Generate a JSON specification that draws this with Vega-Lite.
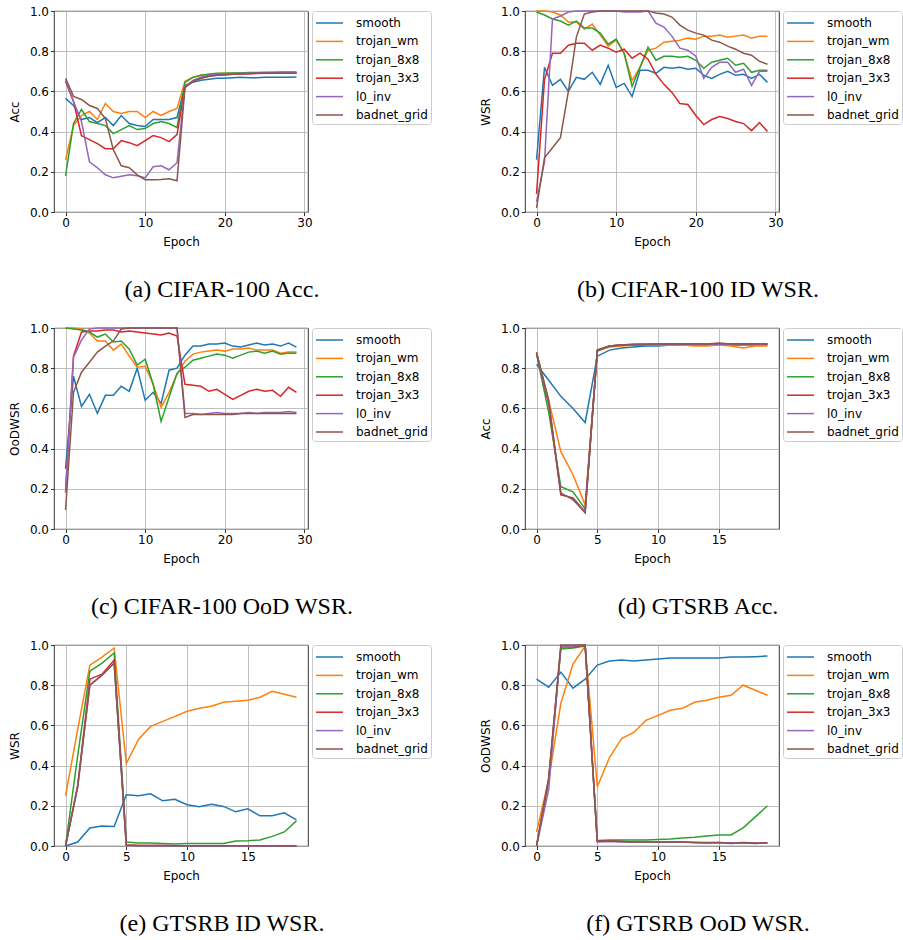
{
"$schema": "https://vega.github.io/schema/vega-lite/v6.json",
"padding": {"left": 8, "top": 4, "right": 0, "bottom": 0},
"background": "white",
"datasets": {
"a": [
{"e":0,"smooth":0.565,"trojan_wm":0.26,"trojan_8x8":0.18,"trojan_3x3":0.65,"l0_inv":0.655,"badnet_grid":0.665},
{"e":1,"smooth":0.53,"trojan_wm":0.43,"trojan_8x8":0.44,"trojan_3x3":0.55,"l0_inv":0.55,"badnet_grid":0.575},
{"e":2,"smooth":0.46,"trojan_wm":0.48,"trojan_8x8":0.51,"trojan_3x3":0.38,"l0_inv":0.45,"badnet_grid":0.56},
{"e":3,"smooth":0.47,"trojan_wm":0.5,"trojan_8x8":0.45,"trojan_3x3":0.36,"l0_inv":0.25,"badnet_grid":0.53},
{"e":4,"smooth":0.445,"trojan_wm":0.46,"trojan_8x8":0.44,"trojan_3x3":0.34,"l0_inv":0.22,"badnet_grid":0.515},
{"e":5,"smooth":0.47,"trojan_wm":0.54,"trojan_8x8":0.43,"trojan_3x3":0.315,"l0_inv":0.185,"badnet_grid":0.465},
{"e":6,"smooth":0.43,"trojan_wm":0.5,"trojan_8x8":0.39,"trojan_3x3":0.315,"l0_inv":0.17,"badnet_grid":0.31},
{"e":7,"smooth":0.48,"trojan_wm":0.49,"trojan_8x8":0.41,"trojan_3x3":0.355,"l0_inv":0.178,"badnet_grid":0.23},
{"e":8,"smooth":0.44,"trojan_wm":0.5,"trojan_8x8":0.43,"trojan_3x3":0.345,"l0_inv":0.185,"badnet_grid":0.22},
{"e":9,"smooth":0.43,"trojan_wm":0.5,"trojan_8x8":0.41,"trojan_3x3":0.33,"l0_inv":0.18,"badnet_grid":0.185},
{"e":10,"smooth":0.425,"trojan_wm":0.47,"trojan_8x8":0.415,"trojan_3x3":0.355,"l0_inv":0.17,"badnet_grid":0.16},
{"e":11,"smooth":0.46,"trojan_wm":0.5,"trojan_8x8":0.44,"trojan_3x3":0.38,"l0_inv":0.225,"badnet_grid":0.16},
{"e":12,"smooth":0.46,"trojan_wm":0.48,"trojan_8x8":0.45,"trojan_3x3":0.37,"l0_inv":0.23,"badnet_grid":0.162},
{"e":13,"smooth":0.46,"trojan_wm":0.5,"trojan_8x8":0.44,"trojan_3x3":0.35,"l0_inv":0.21,"badnet_grid":0.165},
{"e":14,"smooth":0.47,"trojan_wm":0.515,"trojan_8x8":0.42,"trojan_3x3":0.385,"l0_inv":0.245,"badnet_grid":0.155},
{"e":15,"smooth":0.63,"trojan_wm":0.65,"trojan_8x8":0.645,"trojan_3x3":0.62,"l0_inv":0.625,"badnet_grid":0.62},
{"e":16,"smooth":0.645,"trojan_wm":0.67,"trojan_8x8":0.67,"trojan_3x3":0.65,"l0_inv":0.655,"badnet_grid":0.65},
{"e":17,"smooth":0.655,"trojan_wm":0.68,"trojan_8x8":0.68,"trojan_3x3":0.665,"l0_inv":0.67,"badnet_grid":0.665},
{"e":18,"smooth":0.66,"trojan_wm":0.685,"trojan_8x8":0.685,"trojan_3x3":0.675,"l0_inv":0.68,"badnet_grid":0.675},
{"e":19,"smooth":0.665,"trojan_wm":0.688,"trojan_8x8":0.69,"trojan_3x3":0.68,"l0_inv":0.685,"badnet_grid":0.68},
{"e":20,"smooth":0.665,"trojan_wm":0.69,"trojan_8x8":0.69,"trojan_3x3":0.683,"l0_inv":0.687,"badnet_grid":0.683},
{"e":21,"smooth":0.668,"trojan_wm":0.69,"trojan_8x8":0.692,"trojan_3x3":0.685,"l0_inv":0.688,"badnet_grid":0.685},
{"e":22,"smooth":0.67,"trojan_wm":0.692,"trojan_8x8":0.692,"trojan_3x3":0.687,"l0_inv":0.69,"badnet_grid":0.687},
{"e":23,"smooth":0.668,"trojan_wm":0.692,"trojan_8x8":0.694,"trojan_3x3":0.688,"l0_inv":0.69,"badnet_grid":0.688},
{"e":24,"smooth":0.668,"trojan_wm":0.693,"trojan_8x8":0.694,"trojan_3x3":0.689,"l0_inv":0.691,"badnet_grid":0.69},
{"e":25,"smooth":0.67,"trojan_wm":0.693,"trojan_8x8":0.695,"trojan_3x3":0.69,"l0_inv":0.692,"badnet_grid":0.69},
{"e":26,"smooth":0.67,"trojan_wm":0.694,"trojan_8x8":0.695,"trojan_3x3":0.69,"l0_inv":0.692,"badnet_grid":0.69},
{"e":27,"smooth":0.67,"trojan_wm":0.694,"trojan_8x8":0.696,"trojan_3x3":0.69,"l0_inv":0.692,"badnet_grid":0.69},
{"e":28,"smooth":0.67,"trojan_wm":0.694,"trojan_8x8":0.696,"trojan_3x3":0.69,"l0_inv":0.693,"badnet_grid":0.69},
{"e":29,"smooth":0.672,"trojan_wm":0.695,"trojan_8x8":0.696,"trojan_3x3":0.69,"l0_inv":0.693,"badnet_grid":0.69}
],
"b": [
{"e":0,"smooth":0.26,"trojan_wm":1.0,"trojan_8x8":0.995,"trojan_3x3":0.09,"l0_inv":0.05,"badnet_grid":0.02},
{"e":1,"smooth":0.72,"trojan_wm":1.0,"trojan_8x8":0.98,"trojan_3x3":0.66,"l0_inv":0.25,"badnet_grid":0.27},
{"e":2,"smooth":0.63,"trojan_wm":0.995,"trojan_8x8":0.96,"trojan_3x3":0.79,"l0_inv":0.96,"badnet_grid":0.32},
{"e":3,"smooth":0.66,"trojan_wm":0.98,"trojan_8x8":0.95,"trojan_3x3":0.79,"l0_inv":0.975,"badnet_grid":0.37},
{"e":4,"smooth":0.6,"trojan_wm":0.945,"trojan_8x8":0.93,"trojan_3x3":0.83,"l0_inv":0.995,"badnet_grid":0.6},
{"e":5,"smooth":0.67,"trojan_wm":0.945,"trojan_8x8":0.95,"trojan_3x3":0.84,"l0_inv":1.0,"badnet_grid":0.87},
{"e":6,"smooth":0.66,"trojan_wm":0.91,"trojan_8x8":0.915,"trojan_3x3":0.84,"l0_inv":1.0,"badnet_grid":0.985},
{"e":7,"smooth":0.695,"trojan_wm":0.935,"trojan_8x8":0.915,"trojan_3x3":0.805,"l0_inv":1.0,"badnet_grid":0.995},
{"e":8,"smooth":0.635,"trojan_wm":0.88,"trojan_8x8":0.89,"trojan_3x3":0.83,"l0_inv":1.0,"badnet_grid":1.0},
{"e":9,"smooth":0.73,"trojan_wm":0.825,"trojan_8x8":0.835,"trojan_3x3":0.815,"l0_inv":1.0,"badnet_grid":1.0},
{"e":10,"smooth":0.62,"trojan_wm":0.855,"trojan_8x8":0.86,"trojan_3x3":0.795,"l0_inv":1.0,"badnet_grid":1.0},
{"e":11,"smooth":0.64,"trojan_wm":0.79,"trojan_8x8":0.79,"trojan_3x3":0.81,"l0_inv":0.995,"badnet_grid":1.0},
{"e":12,"smooth":0.575,"trojan_wm":0.655,"trojan_8x8":0.625,"trojan_3x3":0.765,"l0_inv":0.995,"badnet_grid":1.0},
{"e":13,"smooth":0.705,"trojan_wm":0.72,"trojan_8x8":0.72,"trojan_3x3":0.79,"l0_inv":0.995,"badnet_grid":1.0},
{"e":14,"smooth":0.705,"trojan_wm":0.805,"trojan_8x8":0.82,"trojan_3x3":0.76,"l0_inv":1.0,"badnet_grid":1.0},
{"e":15,"smooth":0.69,"trojan_wm":0.815,"trojan_8x8":0.755,"trojan_3x3":0.685,"l0_inv":0.94,"badnet_grid":0.99},
{"e":16,"smooth":0.72,"trojan_wm":0.845,"trojan_8x8":0.775,"trojan_3x3":0.635,"l0_inv":0.92,"badnet_grid":0.985},
{"e":17,"smooth":0.715,"trojan_wm":0.85,"trojan_8x8":0.775,"trojan_3x3":0.595,"l0_inv":0.875,"badnet_grid":0.97},
{"e":18,"smooth":0.72,"trojan_wm":0.855,"trojan_8x8":0.77,"trojan_3x3":0.54,"l0_inv":0.815,"badnet_grid":0.93},
{"e":19,"smooth":0.71,"trojan_wm":0.865,"trojan_8x8":0.775,"trojan_3x3":0.535,"l0_inv":0.805,"badnet_grid":0.905},
{"e":20,"smooth":0.715,"trojan_wm":0.86,"trojan_8x8":0.755,"trojan_3x3":0.48,"l0_inv":0.775,"badnet_grid":0.89},
{"e":21,"smooth":0.68,"trojan_wm":0.875,"trojan_8x8":0.715,"trojan_3x3":0.435,"l0_inv":0.665,"badnet_grid":0.88},
{"e":22,"smooth":0.665,"trojan_wm":0.875,"trojan_8x8":0.745,"trojan_3x3":0.46,"l0_inv":0.72,"badnet_grid":0.855},
{"e":23,"smooth":0.685,"trojan_wm":0.88,"trojan_8x8":0.755,"trojan_3x3":0.475,"l0_inv":0.745,"badnet_grid":0.845},
{"e":24,"smooth":0.7,"trojan_wm":0.87,"trojan_8x8":0.765,"trojan_3x3":0.465,"l0_inv":0.745,"badnet_grid":0.825},
{"e":25,"smooth":0.68,"trojan_wm":0.875,"trojan_8x8":0.73,"trojan_3x3":0.45,"l0_inv":0.695,"badnet_grid":0.81},
{"e":26,"smooth":0.685,"trojan_wm":0.88,"trojan_8x8":0.74,"trojan_3x3":0.44,"l0_inv":0.71,"badnet_grid":0.79},
{"e":27,"smooth":0.665,"trojan_wm":0.865,"trojan_8x8":0.695,"trojan_3x3":0.405,"l0_inv":0.63,"badnet_grid":0.78},
{"e":28,"smooth":0.685,"trojan_wm":0.875,"trojan_8x8":0.705,"trojan_3x3":0.445,"l0_inv":0.7,"badnet_grid":0.75},
{"e":29,"smooth":0.645,"trojan_wm":0.875,"trojan_8x8":0.705,"trojan_3x3":0.4,"l0_inv":0.7,"badnet_grid":0.735}
],
"c": [
{"e":0,"smooth":0.3,"trojan_wm":1.0,"trojan_8x8":1.0,"trojan_3x3":0.19,"l0_inv":0.18,"badnet_grid":0.095},
{"e":1,"smooth":0.76,"trojan_wm":1.0,"trojan_8x8":0.995,"trojan_3x3":0.86,"l0_inv":0.855,"badnet_grid":0.68},
{"e":2,"smooth":0.61,"trojan_wm":0.995,"trojan_8x8":0.99,"trojan_3x3":0.98,"l0_inv":0.94,"badnet_grid":0.78},
{"e":3,"smooth":0.67,"trojan_wm":0.975,"trojan_8x8":0.98,"trojan_3x3":0.985,"l0_inv":0.995,"badnet_grid":0.83},
{"e":4,"smooth":0.575,"trojan_wm":0.935,"trojan_8x8":0.955,"trojan_3x3":0.985,"l0_inv":1.0,"badnet_grid":0.88},
{"e":5,"smooth":0.665,"trojan_wm":0.935,"trojan_8x8":0.97,"trojan_3x3":0.99,"l0_inv":1.0,"badnet_grid":0.91},
{"e":6,"smooth":0.665,"trojan_wm":0.89,"trojan_8x8":0.93,"trojan_3x3":0.99,"l0_inv":1.0,"badnet_grid":0.935},
{"e":7,"smooth":0.71,"trojan_wm":0.92,"trojan_8x8":0.935,"trojan_3x3":0.98,"l0_inv":1.0,"badnet_grid":0.995},
{"e":8,"smooth":0.685,"trojan_wm":0.86,"trojan_8x8":0.895,"trojan_3x3":0.985,"l0_inv":1.0,"badnet_grid":1.0},
{"e":9,"smooth":0.8,"trojan_wm":0.805,"trojan_8x8":0.815,"trojan_3x3":0.98,"l0_inv":1.0,"badnet_grid":1.0},
{"e":10,"smooth":0.64,"trojan_wm":0.81,"trojan_8x8":0.845,"trojan_3x3":0.975,"l0_inv":1.0,"badnet_grid":1.0},
{"e":11,"smooth":0.68,"trojan_wm":0.72,"trojan_8x8":0.72,"trojan_3x3":0.97,"l0_inv":1.0,"badnet_grid":1.0},
{"e":12,"smooth":0.625,"trojan_wm":0.605,"trojan_8x8":0.535,"trojan_3x3":0.965,"l0_inv":1.0,"badnet_grid":1.0},
{"e":13,"smooth":0.79,"trojan_wm":0.68,"trojan_8x8":0.655,"trojan_3x3":0.975,"l0_inv":1.0,"badnet_grid":1.0},
{"e":14,"smooth":0.8,"trojan_wm":0.77,"trojan_8x8":0.775,"trojan_3x3":0.96,"l0_inv":1.0,"badnet_grid":1.0},
{"e":15,"smooth":0.865,"trojan_wm":0.835,"trojan_8x8":0.805,"trojan_3x3":0.72,"l0_inv":0.575,"badnet_grid":0.555},
{"e":16,"smooth":0.91,"trojan_wm":0.87,"trojan_8x8":0.84,"trojan_3x3":0.715,"l0_inv":0.575,"badnet_grid":0.57},
{"e":17,"smooth":0.91,"trojan_wm":0.88,"trojan_8x8":0.85,"trojan_3x3":0.71,"l0_inv":0.57,"badnet_grid":0.57},
{"e":18,"smooth":0.92,"trojan_wm":0.885,"trojan_8x8":0.86,"trojan_3x3":0.685,"l0_inv":0.575,"badnet_grid":0.57},
{"e":19,"smooth":0.92,"trojan_wm":0.89,"trojan_8x8":0.87,"trojan_3x3":0.695,"l0_inv":0.58,"badnet_grid":0.57},
{"e":20,"smooth":0.925,"trojan_wm":0.885,"trojan_8x8":0.865,"trojan_3x3":0.67,"l0_inv":0.575,"badnet_grid":0.57},
{"e":21,"smooth":0.91,"trojan_wm":0.895,"trojan_8x8":0.85,"trojan_3x3":0.645,"l0_inv":0.575,"badnet_grid":0.57},
{"e":22,"smooth":0.905,"trojan_wm":0.895,"trojan_8x8":0.865,"trojan_3x3":0.665,"l0_inv":0.575,"badnet_grid":0.575},
{"e":23,"smooth":0.915,"trojan_wm":0.9,"trojan_8x8":0.88,"trojan_3x3":0.685,"l0_inv":0.58,"badnet_grid":0.575},
{"e":24,"smooth":0.925,"trojan_wm":0.89,"trojan_8x8":0.885,"trojan_3x3":0.695,"l0_inv":0.575,"badnet_grid":0.575},
{"e":25,"smooth":0.915,"trojan_wm":0.89,"trojan_8x8":0.875,"trojan_3x3":0.685,"l0_inv":0.58,"badnet_grid":0.575},
{"e":26,"smooth":0.92,"trojan_wm":0.89,"trojan_8x8":0.885,"trojan_3x3":0.69,"l0_inv":0.58,"badnet_grid":0.575},
{"e":27,"smooth":0.91,"trojan_wm":0.875,"trojan_8x8":0.87,"trojan_3x3":0.66,"l0_inv":0.58,"badnet_grid":0.575},
{"e":28,"smooth":0.925,"trojan_wm":0.88,"trojan_8x8":0.875,"trojan_3x3":0.705,"l0_inv":0.585,"badnet_grid":0.575},
{"e":29,"smooth":0.905,"trojan_wm":0.88,"trojan_8x8":0.875,"trojan_3x3":0.68,"l0_inv":0.58,"badnet_grid":0.575}
],
"d": [
{"e":0,"smooth":0.82,"trojan_wm":0.875,"trojan_8x8":0.87,"trojan_3x3":0.875,"l0_inv":0.875,"badnet_grid":0.88},
{"e":1,"smooth":0.74,"trojan_wm":0.64,"trojan_8x8":0.58,"trojan_3x3":0.62,"l0_inv":0.63,"badnet_grid":0.64},
{"e":2,"smooth":0.66,"trojan_wm":0.385,"trojan_8x8":0.21,"trojan_3x3":0.17,"l0_inv":0.18,"badnet_grid":0.175},
{"e":3,"smooth":0.6,"trojan_wm":0.27,"trojan_8x8":0.185,"trojan_3x3":0.155,"l0_inv":0.145,"badnet_grid":0.15},
{"e":4,"smooth":0.53,"trojan_wm":0.12,"trojan_8x8":0.1,"trojan_3x3":0.085,"l0_inv":0.085,"badnet_grid":0.08},
{"e":5,"smooth":0.86,"trojan_wm":0.885,"trojan_8x8":0.885,"trojan_3x3":0.89,"l0_inv":0.89,"badnet_grid":0.89},
{"e":6,"smooth":0.89,"trojan_wm":0.905,"trojan_8x8":0.91,"trojan_3x3":0.91,"l0_inv":0.91,"badnet_grid":0.91},
{"e":7,"smooth":0.9,"trojan_wm":0.91,"trojan_8x8":0.915,"trojan_3x3":0.915,"l0_inv":0.915,"badnet_grid":0.915},
{"e":8,"smooth":0.905,"trojan_wm":0.915,"trojan_8x8":0.915,"trojan_3x3":0.917,"l0_inv":0.917,"badnet_grid":0.92},
{"e":9,"smooth":0.91,"trojan_wm":0.915,"trojan_8x8":0.917,"trojan_3x3":0.918,"l0_inv":0.918,"badnet_grid":0.92},
{"e":10,"smooth":0.91,"trojan_wm":0.915,"trojan_8x8":0.918,"trojan_3x3":0.92,"l0_inv":0.92,"badnet_grid":0.92},
{"e":11,"smooth":0.915,"trojan_wm":0.915,"trojan_8x8":0.92,"trojan_3x3":0.92,"l0_inv":0.92,"badnet_grid":0.92},
{"e":12,"smooth":0.915,"trojan_wm":0.915,"trojan_8x8":0.92,"trojan_3x3":0.92,"l0_inv":0.92,"badnet_grid":0.92},
{"e":13,"smooth":0.915,"trojan_wm":0.91,"trojan_8x8":0.92,"trojan_3x3":0.92,"l0_inv":0.92,"badnet_grid":0.92},
{"e":14,"smooth":0.915,"trojan_wm":0.91,"trojan_8x8":0.92,"trojan_3x3":0.92,"l0_inv":0.92,"badnet_grid":0.92},
{"e":15,"smooth":0.915,"trojan_wm":0.915,"trojan_8x8":0.92,"trojan_3x3":0.922,"l0_inv":0.92,"badnet_grid":0.925},
{"e":16,"smooth":0.915,"trojan_wm":0.91,"trojan_8x8":0.92,"trojan_3x3":0.92,"l0_inv":0.92,"badnet_grid":0.92},
{"e":17,"smooth":0.915,"trojan_wm":0.9,"trojan_8x8":0.92,"trojan_3x3":0.92,"l0_inv":0.92,"badnet_grid":0.922},
{"e":18,"smooth":0.915,"trojan_wm":0.91,"trojan_8x8":0.92,"trojan_3x3":0.92,"l0_inv":0.92,"badnet_grid":0.92},
{"e":19,"smooth":0.915,"trojan_wm":0.91,"trojan_8x8":0.92,"trojan_3x3":0.92,"l0_inv":0.92,"badnet_grid":0.92}
],
"e": [
{"e":0,"smooth":0.0,"trojan_wm":0.25,"trojan_8x8":0.0,"trojan_3x3":0.0,"l0_inv":0.0,"badnet_grid":0.0},
{"e":1,"smooth":0.02,"trojan_wm":0.58,"trojan_8x8":0.45,"trojan_3x3":0.3,"l0_inv":0.29,"badnet_grid":0.3},
{"e":2,"smooth":0.09,"trojan_wm":0.9,"trojan_8x8":0.87,"trojan_3x3":0.83,"l0_inv":0.8,"badnet_grid":0.8},
{"e":3,"smooth":0.1,"trojan_wm":0.94,"trojan_8x8":0.91,"trojan_3x3":0.855,"l0_inv":0.85,"badnet_grid":0.85},
{"e":4,"smooth":0.097,"trojan_wm":0.985,"trojan_8x8":0.96,"trojan_3x3":0.925,"l0_inv":0.91,"badnet_grid":0.91},
{"e":5,"smooth":0.255,"trojan_wm":0.41,"trojan_8x8":0.02,"trojan_3x3":0.005,"l0_inv":0.002,"badnet_grid":0.005},
{"e":6,"smooth":0.25,"trojan_wm":0.53,"trojan_8x8":0.015,"trojan_3x3":0.003,"l0_inv":0.001,"badnet_grid":0.003},
{"e":7,"smooth":0.26,"trojan_wm":0.595,"trojan_8x8":0.015,"trojan_3x3":0.002,"l0_inv":0.001,"badnet_grid":0.002},
{"e":8,"smooth":0.225,"trojan_wm":0.62,"trojan_8x8":0.012,"trojan_3x3":0.002,"l0_inv":0.0,"badnet_grid":0.002},
{"e":9,"smooth":0.232,"trojan_wm":0.645,"trojan_8x8":0.01,"trojan_3x3":0.001,"l0_inv":0.0,"badnet_grid":0.001},
{"e":10,"smooth":0.205,"trojan_wm":0.67,"trojan_8x8":0.012,"trojan_3x3":0.001,"l0_inv":0.0,"badnet_grid":0.001},
{"e":11,"smooth":0.195,"trojan_wm":0.685,"trojan_8x8":0.012,"trojan_3x3":0.001,"l0_inv":0.0,"badnet_grid":0.001},
{"e":12,"smooth":0.208,"trojan_wm":0.695,"trojan_8x8":0.012,"trojan_3x3":0.001,"l0_inv":0.0,"badnet_grid":0.001},
{"e":13,"smooth":0.197,"trojan_wm":0.715,"trojan_8x8":0.012,"trojan_3x3":0.001,"l0_inv":0.0,"badnet_grid":0.001},
{"e":14,"smooth":0.17,"trojan_wm":0.72,"trojan_8x8":0.025,"trojan_3x3":0.001,"l0_inv":0.0,"badnet_grid":0.001},
{"e":15,"smooth":0.185,"trojan_wm":0.725,"trojan_8x8":0.026,"trojan_3x3":0.001,"l0_inv":0.0,"badnet_grid":0.001},
{"e":16,"smooth":0.15,"trojan_wm":0.74,"trojan_8x8":0.03,"trojan_3x3":0.001,"l0_inv":0.0,"badnet_grid":0.001},
{"e":17,"smooth":0.15,"trojan_wm":0.77,"trojan_8x8":0.048,"trojan_3x3":0.001,"l0_inv":0.0,"badnet_grid":0.001},
{"e":18,"smooth":0.165,"trojan_wm":0.755,"trojan_8x8":0.07,"trojan_3x3":0.001,"l0_inv":0.0,"badnet_grid":0.001},
{"e":19,"smooth":0.13,"trojan_wm":0.74,"trojan_8x8":0.125,"trojan_3x3":0.001,"l0_inv":0.0,"badnet_grid":0.001}
],
"f": [
{"e":0,"smooth":0.83,"trojan_wm":0.07,"trojan_8x8":0.0,"trojan_3x3":0.0,"l0_inv":0.0,"badnet_grid":0.0},
{"e":1,"smooth":0.79,"trojan_wm":0.33,"trojan_8x8":0.33,"trojan_3x3":0.33,"l0_inv":0.28,"badnet_grid":0.34},
{"e":2,"smooth":0.865,"trojan_wm":0.71,"trojan_8x8":0.98,"trojan_3x3":0.99,"l0_inv":0.995,"badnet_grid":1.0},
{"e":3,"smooth":0.785,"trojan_wm":0.905,"trojan_8x8":0.985,"trojan_3x3":0.99,"l0_inv":0.995,"badnet_grid":1.0},
{"e":4,"smooth":0.83,"trojan_wm":0.995,"trojan_8x8":0.995,"trojan_3x3":1.0,"l0_inv":1.0,"badnet_grid":1.0},
{"e":5,"smooth":0.9,"trojan_wm":0.295,"trojan_8x8":0.027,"trojan_3x3":0.025,"l0_inv":0.02,"badnet_grid":0.022},
{"e":6,"smooth":0.92,"trojan_wm":0.44,"trojan_8x8":0.03,"trojan_3x3":0.025,"l0_inv":0.022,"badnet_grid":0.025},
{"e":7,"smooth":0.925,"trojan_wm":0.535,"trojan_8x8":0.03,"trojan_3x3":0.022,"l0_inv":0.02,"badnet_grid":0.022},
{"e":8,"smooth":0.92,"trojan_wm":0.565,"trojan_8x8":0.03,"trojan_3x3":0.02,"l0_inv":0.02,"badnet_grid":0.02},
{"e":9,"smooth":0.925,"trojan_wm":0.625,"trojan_8x8":0.03,"trojan_3x3":0.02,"l0_inv":0.02,"badnet_grid":0.02},
{"e":10,"smooth":0.93,"trojan_wm":0.65,"trojan_8x8":0.032,"trojan_3x3":0.02,"l0_inv":0.02,"badnet_grid":0.02},
{"e":11,"smooth":0.935,"trojan_wm":0.675,"trojan_8x8":0.035,"trojan_3x3":0.02,"l0_inv":0.019,"badnet_grid":0.02},
{"e":12,"smooth":0.935,"trojan_wm":0.685,"trojan_8x8":0.04,"trojan_3x3":0.02,"l0_inv":0.019,"badnet_grid":0.02},
{"e":13,"smooth":0.935,"trojan_wm":0.715,"trojan_8x8":0.043,"trojan_3x3":0.018,"l0_inv":0.018,"badnet_grid":0.018},
{"e":14,"smooth":0.935,"trojan_wm":0.725,"trojan_8x8":0.05,"trojan_3x3":0.017,"l0_inv":0.016,"badnet_grid":0.015},
{"e":15,"smooth":0.935,"trojan_wm":0.74,"trojan_8x8":0.055,"trojan_3x3":0.017,"l0_inv":0.016,"badnet_grid":0.017},
{"e":16,"smooth":0.94,"trojan_wm":0.75,"trojan_8x8":0.055,"trojan_3x3":0.015,"l0_inv":0.015,"badnet_grid":0.013},
{"e":17,"smooth":0.94,"trojan_wm":0.8,"trojan_8x8":0.09,"trojan_3x3":0.017,"l0_inv":0.016,"badnet_grid":0.016},
{"e":18,"smooth":0.942,"trojan_wm":0.775,"trojan_8x8":0.145,"trojan_3x3":0.015,"l0_inv":0.014,"badnet_grid":0.013},
{"e":19,"smooth":0.945,"trojan_wm":0.75,"trojan_8x8":0.2,"trojan_3x3":0.016,"l0_inv":0.015,"badnet_grid":0.015}
]
},
"spacing": 19,
"vconcat": [
{"spacing": 47, "hconcat": [
{"width": 254, "height": 201, "data": {"name": "a"},
 "transform": [{"fold": ["smooth","trojan_wm","trojan_8x8","trojan_3x3","l0_inv","badnet_grid"], "as": ["method","value"]}],
 "title": {"text": "(a) CIFAR-100 Acc.", "dx": 41},
 "mark": {"type": "line", "strokeWidth": 1.5},
 "encoding": {
  "x": {"field": "e", "type": "quantitative", "scale": {"domain": [-1.45, 30.45], "nice": false, "zero": false}, "axis": {"values": [0,10,20,30], "format": "d", "title": "Epoch"}},
  "y": {"field": "value", "type": "quantitative", "scale": {"domain": [0,1], "nice": false}, "axis": {"values": [0,0.2,0.4,0.6,0.8,1.0], "format": ".1f", "title": "Acc"}},
  "color": {"field": "method", "type": "nominal", "scale": {"domain": ["smooth","trojan_wm","trojan_8x8","trojan_3x3","l0_inv","badnet_grid"], "range": ["#1f77b4","#ff7f0e","#2ca02c","#d62728","#9467bd","#8c564b"]}, "legend": {"title": null, "symbolType": "M-1.64,0H1.64"}}
 }},
{"width": 254, "height": 201, "data": {"name": "b"},
 "transform": [{"fold": ["smooth","trojan_wm","trojan_8x8","trojan_3x3","l0_inv","badnet_grid"], "as": ["method","value"]}],
 "title": {"text": "(b) CIFAR-100 ID WSR.", "dx": 46},
 "mark": {"type": "line", "strokeWidth": 1.5},
 "encoding": {
  "x": {"field": "e", "type": "quantitative", "scale": {"domain": [-1.45, 30.45], "nice": false, "zero": false}, "axis": {"values": [0,10,20,30], "format": "d", "title": "Epoch"}},
  "y": {"field": "value", "type": "quantitative", "scale": {"domain": [0,1], "nice": false}, "axis": {"values": [0,0.2,0.4,0.6,0.8,1.0], "format": ".1f", "title": "WSR"}},
  "color": {"field": "method", "type": "nominal", "scale": {"domain": ["smooth","trojan_wm","trojan_8x8","trojan_3x3","l0_inv","badnet_grid"], "range": ["#1f77b4","#ff7f0e","#2ca02c","#d62728","#9467bd","#8c564b"]}, "legend": {"title": null, "symbolType": "M-1.64,0H1.64"}}
 }}
], "resolve": {"scale": {"color": "independent"}, "legend": {"color": "independent"}}},
{"spacing": 47, "hconcat": [
{"width": 254, "height": 201, "data": {"name": "c"},
 "transform": [{"fold": ["smooth","trojan_wm","trojan_8x8","trojan_3x3","l0_inv","badnet_grid"], "as": ["method","value"]}],
 "title": {"text": "(c) CIFAR-100 OoD WSR.", "dx": 41},
 "mark": {"type": "line", "strokeWidth": 1.5},
 "encoding": {
  "x": {"field": "e", "type": "quantitative", "scale": {"domain": [-1.45, 30.45], "nice": false, "zero": false}, "axis": {"values": [0,10,20,30], "format": "d", "title": "Epoch"}},
  "y": {"field": "value", "type": "quantitative", "scale": {"domain": [0,1], "nice": false}, "axis": {"values": [0,0.2,0.4,0.6,0.8,1.0], "format": ".1f", "title": "OoDWSR"}},
  "color": {"field": "method", "type": "nominal", "scale": {"domain": ["smooth","trojan_wm","trojan_8x8","trojan_3x3","l0_inv","badnet_grid"], "range": ["#1f77b4","#ff7f0e","#2ca02c","#d62728","#9467bd","#8c564b"]}, "legend": {"title": null, "symbolType": "M-1.64,0H1.64"}}
 }},
{"width": 254, "height": 201, "data": {"name": "d"},
 "transform": [{"fold": ["smooth","trojan_wm","trojan_8x8","trojan_3x3","l0_inv","badnet_grid"], "as": ["method","value"]}],
 "title": {"text": "(d) GTSRB Acc.", "dx": 46},
 "mark": {"type": "line", "strokeWidth": 1.5},
 "encoding": {
  "x": {"field": "e", "type": "quantitative", "scale": {"domain": [-0.95, 19.95], "nice": false, "zero": false}, "axis": {"values": [0,5,10,15], "format": "d", "title": "Epoch"}},
  "y": {"field": "value", "type": "quantitative", "scale": {"domain": [0,1], "nice": false}, "axis": {"values": [0,0.2,0.4,0.6,0.8,1.0], "format": ".1f", "title": "Acc"}},
  "color": {"field": "method", "type": "nominal", "scale": {"domain": ["smooth","trojan_wm","trojan_8x8","trojan_3x3","l0_inv","badnet_grid"], "range": ["#1f77b4","#ff7f0e","#2ca02c","#d62728","#9467bd","#8c564b"]}, "legend": {"title": null, "symbolType": "M-1.64,0H1.64"}}
 }}
], "resolve": {"scale": {"color": "independent"}, "legend": {"color": "independent"}}},
{"spacing": 47, "hconcat": [
{"width": 254, "height": 201, "data": {"name": "e"},
 "transform": [{"fold": ["smooth","trojan_wm","trojan_8x8","trojan_3x3","l0_inv","badnet_grid"], "as": ["method","value"]}],
 "title": {"text": "(e) GTSRB ID WSR.", "dx": 41},
 "mark": {"type": "line", "strokeWidth": 1.5},
 "encoding": {
  "x": {"field": "e", "type": "quantitative", "scale": {"domain": [-0.95, 19.95], "nice": false, "zero": false}, "axis": {"values": [0,5,10,15], "format": "d", "title": "Epoch"}},
  "y": {"field": "value", "type": "quantitative", "scale": {"domain": [0,1], "nice": false}, "axis": {"values": [0,0.2,0.4,0.6,0.8,1.0], "format": ".1f", "title": "WSR"}},
  "color": {"field": "method", "type": "nominal", "scale": {"domain": ["smooth","trojan_wm","trojan_8x8","trojan_3x3","l0_inv","badnet_grid"], "range": ["#1f77b4","#ff7f0e","#2ca02c","#d62728","#9467bd","#8c564b"]}, "legend": {"title": null, "symbolType": "M-1.64,0H1.64"}}
 }},
{"width": 254, "height": 201, "data": {"name": "f"},
 "transform": [{"fold": ["smooth","trojan_wm","trojan_8x8","trojan_3x3","l0_inv","badnet_grid"], "as": ["method","value"]}],
 "title": {"text": "(f) GTSRB OoD WSR.", "dx": 46},
 "mark": {"type": "line", "strokeWidth": 1.5},
 "encoding": {
  "x": {"field": "e", "type": "quantitative", "scale": {"domain": [-0.95, 19.95], "nice": false, "zero": false}, "axis": {"values": [0,5,10,15], "format": "d", "title": "Epoch"}},
  "y": {"field": "value", "type": "quantitative", "scale": {"domain": [0,1], "nice": false}, "axis": {"values": [0,0.2,0.4,0.6,0.8,1.0], "format": ".1f", "title": "OoDWSR"}},
  "color": {"field": "method", "type": "nominal", "scale": {"domain": ["smooth","trojan_wm","trojan_8x8","trojan_3x3","l0_inv","badnet_grid"], "range": ["#1f77b4","#ff7f0e","#2ca02c","#d62728","#9467bd","#8c564b"]}, "legend": {"title": null, "symbolType": "M-1.64,0H1.64"}}
 }}
], "resolve": {"scale": {"color": "independent"}, "legend": {"color": "independent"}}}
],
"resolve": {"scale": {"color": "independent"}, "legend": {"color": "independent"}},
"config": {
 "view": {"stroke": "black", "strokeWidth": 0.8},
 "font": "DejaVu Sans",
 "axis": {"domain": false, "grid": true, "gridColor": "#b0b0b0", "gridWidth": 0.8, "tickColor": "black", "tickWidth": 0.8, "tickSize": 3.5, "labelFont": "DejaVu Sans", "labelFontSize": 12, "labelColor": "black", "labelPadding": 2, "labelFlush": false, "labelOverlap": false, "titleFont": "DejaVu Sans", "titleFontSize": 12, "titleFontWeight": "normal", "titleColor": "black"},
 "axisX": {"titlePadding": 8},
 "axisY": {"titlePadding": 8},
 "legend": {"orient": "right", "offset": 4, "padding": 3, "labelFont": "DejaVu Sans", "labelFontSize": 12, "labelColor": "black", "symbolSize": 272, "symbolStrokeWidth": 1.5, "symbolOffset": 5.5, "labelOffset": 17.5, "rowPadding": 3.4, "strokeColor": "#cccccc", "fillColor": "white", "cornerRadius": 3},
 "title": {"orient": "bottom", "anchor": "middle", "frame": "group", "font": "Liberation Serif", "fontSize": 24, "fontWeight": "normal", "color": "black", "offset": 30}
}
}
